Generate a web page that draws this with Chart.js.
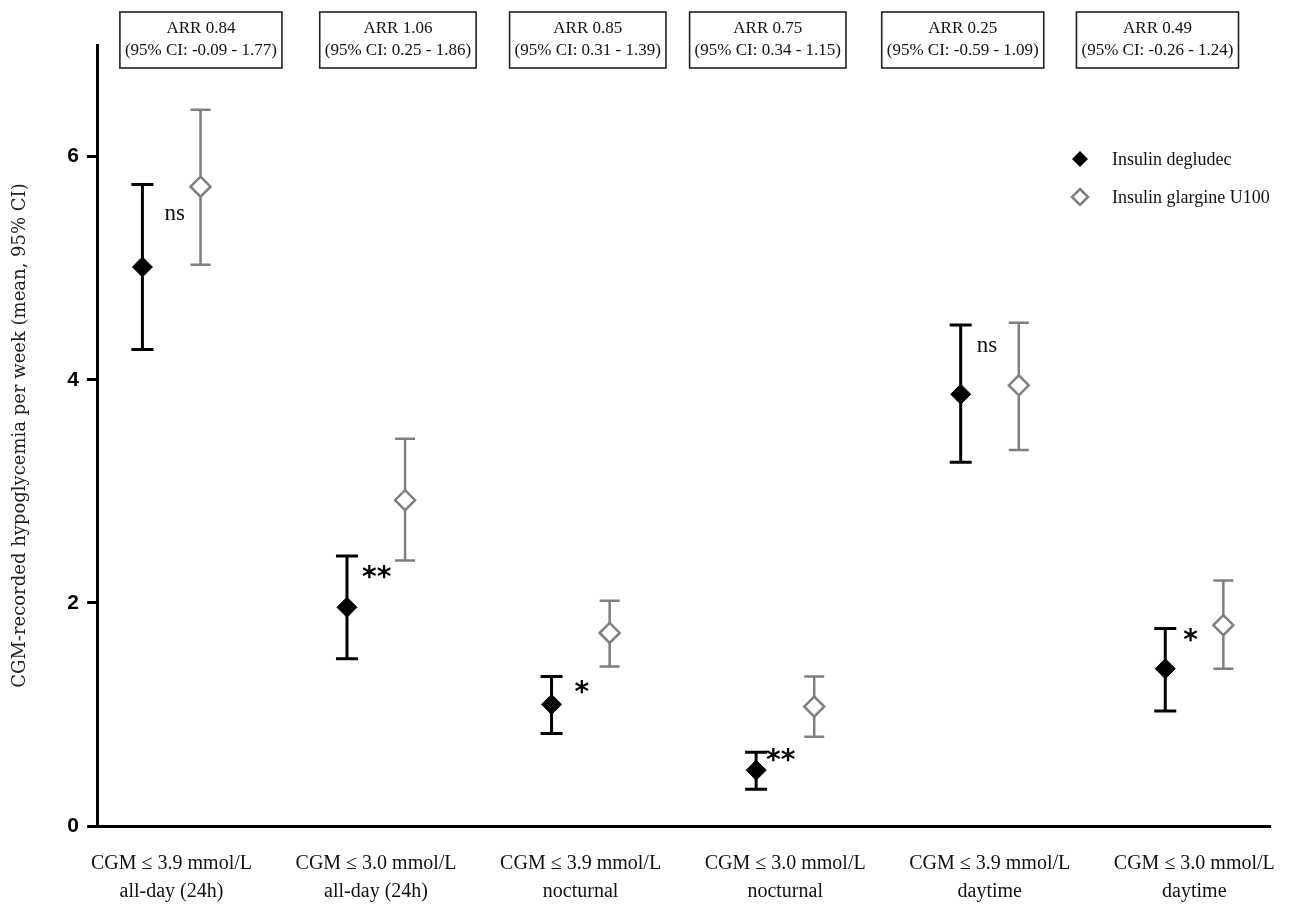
<!DOCTYPE html>
<html>
<head>
<meta charset="utf-8">
<title>CGM-recorded hypoglycemia</title>
<script src="https://cdn.jsdelivr.net/npm/chart.js@4/dist/chart.umd.min.js"></script>
<style>
  html, body { margin: 0; padding: 0; background: #fff; }
  #wrap { width: 1316px; height: 916px; position: relative; }
</style>
</head>
<body>
<div id="wrap"><canvas id="chart"></canvas></div>
<script>
// categories (x axis, two-line labels)
const categories = [
  ['CGM \u2264 3.9 mmol/L', 'all-day (24h)'],
  ['CGM \u2264 3.0 mmol/L', 'all-day (24h)'],
  ['CGM \u2264 3.9 mmol/L', 'nocturnal'],
  ['CGM \u2264 3.0 mmol/L', 'nocturnal'],
  ['CGM \u2264 3.9 mmol/L', 'daytime'],
  ['CGM \u2264 3.0 mmol/L', 'daytime']
];
const seriesNames = ['Insulin degludec', 'Insulin glargine U100'];

// insulin degludec: mean and 95% CI
const degMean = [5.01, 1.96, 1.09, 0.50, 3.87, 1.41];
const degLow  = [4.27, 1.50, 0.83, 0.33, 3.26, 1.03];
const degHigh = [5.75, 2.42, 1.34, 0.66, 4.49, 1.77];

// insulin glargine U100: mean and 95% CI
const glaMean = [5.73, 2.92, 1.73, 1.07, 3.95, 1.80];
const glaLow  = [5.03, 2.38, 1.43, 0.80, 3.37, 1.41];
const glaHigh = [6.42, 3.47, 2.02, 1.34, 4.51, 2.20];

// rate ratio boxes
const arrValue = ['0.84', '1.06', '0.85', '0.75', '0.25', '0.49'];
const arrCI = ['-0.09 - 1.77', '0.25 - 1.86', '0.31 - 1.39', '0.34 - 1.15', '-0.59 - 1.09', '-0.26 - 1.24'];

// significance markers
const sigLabels = ['ns', '**', '*', '**', 'ns', '*'];
const sigY = [5.49, 2.28, 1.25, 0.64, 4.30, 1.71];

const yTicks = [0, 2, 4, 6];

// layout constants
const PAIR_OFFSET = 0.142;
const boxCenters = [0.144, 1.107, 2.035, 2.915, 3.868, 4.82];
const sigDx = [22, 15, 23, 10, 16, 18];
const DEG_COLOR = '#000000';
const GLA_COLOR = '#7f7f7f';
const SERIF = '"Liberation Serif", "DejaVu Serif", serif';

const degPoints = degMean.map(function(v, i) { return { x: i - PAIR_OFFSET, y: v }; });
const glaPoints = glaMean.map(function(v, i) { return { x: i + PAIR_OFFSET, y: v }; });

const errorBars = {
  id: 'errorBars',
  beforeDatasetsDraw(chart) {
    const ctx = chart.ctx;
    const xs = chart.scales.x;
    const ys = chart.scales.y;
    const sets = [
      { lo: degLow, hi: degHigh, off: -PAIR_OFFSET, color: DEG_COLOR, w: 3, cap: 11 },
      { lo: glaLow, hi: glaHigh, off: PAIR_OFFSET, color: GLA_COLOR, w: 2.5, cap: 10 }
    ];
    ctx.save();
    sets.forEach(function(s) {
      ctx.strokeStyle = s.color;
      ctx.lineWidth = s.w;
      s.lo.forEach(function(lo, i) {
        const x = xs.getPixelForValue(i + s.off);
        const y1 = ys.getPixelForValue(lo);
        const y2 = ys.getPixelForValue(s.hi[i]);
        ctx.beginPath();
        ctx.moveTo(x, y1); ctx.lineTo(x, y2);
        ctx.moveTo(x - s.cap, y1); ctx.lineTo(x + s.cap, y1);
        ctx.moveTo(x - s.cap, y2); ctx.lineTo(x + s.cap, y2);
        ctx.stroke();
      });
    });
    ctx.restore();
  }
};

const annotations = {
  id: 'annotations',
  afterDatasetsDraw(chart) {
    const ctx = chart.ctx;
    const xs = chart.scales.x;
    const ys = chart.scales.y;
    ctx.save();

    // ARR boxes on top
    ctx.font = '17px ' + SERIF;
    ctx.textAlign = 'center';
    ctx.textBaseline = 'middle';
    arrValue.forEach(function(v, i) {
      const cx = xs.getPixelForValue(boxCenters[i]);
      const l1 = 'ARR ' + v;
      const l2 = '(95% CI: ' + arrCI[i] + ')';
      const w = ctx.measureText(l2).width + 10;
      ctx.strokeStyle = '#222';
      ctx.lineWidth = 1.6;
      ctx.strokeRect(cx - w / 2, 12, w, 56);
      ctx.fillStyle = '#111';
      ctx.fillText(l1, cx, 29);
      ctx.fillText(l2, cx, 51);
    });

    // significance markers
    ctx.textAlign = 'left';
    sigLabels.forEach(function(s, i) {
      const x = xs.getPixelForValue(i - PAIR_OFFSET) + sigDx[i];
      const y = ys.getPixelForValue(sigY[i]);
      if (s === 'ns') {
        ctx.font = '23px ' + SERIF;
        ctx.fillStyle = '#111';
        ctx.fillText(s, x, y);
      } else {
        ctx.font = 'bold 28px "DejaVu Sans", sans-serif';
        ctx.fillStyle = '#000';
        ctx.fillText(s, x, y + 7);
      }
    });

    // legend
    const lx = 1080;
    [159, 197].forEach(function(y, k) {
      ctx.beginPath();
      ctx.moveTo(lx, y - 8); ctx.lineTo(lx + 8, y); ctx.lineTo(lx, y + 8); ctx.lineTo(lx - 8, y);
      ctx.closePath();
      if (k === 0) {
        ctx.fillStyle = DEG_COLOR; ctx.fill();
      } else {
        ctx.fillStyle = '#fff'; ctx.fill();
        ctx.strokeStyle = GLA_COLOR; ctx.lineWidth = 2.5; ctx.stroke();
      }
      ctx.font = '18px ' + SERIF;
      ctx.fillStyle = '#111';
      ctx.textAlign = 'left';
      ctx.fillText(seriesNames[k], 1112, y + 1);
    });
    ctx.restore();
  }
};

new Chart(document.getElementById('chart'), {
  type: 'scatter',
  data: {
    datasets: [{
      label: seriesNames[0],
      data: degPoints,
      pointStyle: 'rectRot',
      pointRadius: 10,
      pointBackgroundColor: DEG_COLOR,
      pointBorderColor: DEG_COLOR,
      pointBorderWidth: 1
    },
    {
      label: seriesNames[1],
      data: glaPoints,
      pointStyle: 'rectRot',
      pointRadius: 10,
      pointBackgroundColor: '#ffffff',
      pointBorderColor: GLA_COLOR,
      pointBorderWidth: 2.5
    }]
  },
  options: {
    responsive: true,
    maintainAspectRatio: false,
    animation: false,
    layout: { padding: { top: 45, right: 46, left: 0, bottom: 0 } },
    plugins: {
      legend: { display: false },
      tooltip: { enabled: false }
    },
    scales: {
      x: {
        type: 'linear',
        min: -0.364,
        max: 5.37,
        afterBuildTicks: function(scale) {
          scale.ticks = categories.map(function(c, i) { return { value: i }; });
        },
        afterFit: function(scale) { scale.height = 90; },
        grid: { display: false, drawTicks: false },
        border: { display: true, color: '#000', width: 3 },
        ticks: {
          autoSkip: false,
          maxRotation: 0,
          padding: 24,
          color: '#111',
          font: { family: SERIF, size: 20, lineHeight: 1.4 },
          callback: function(v) { return categories[v]; }
        }
      },
      y: {
        min: 0,
        max: 7,
        afterBuildTicks: function(scale) {
          scale.ticks = yTicks.map(function(v) { return { value: v }; });
        },
        afterFit: function(scale) { scale.width = 97; },
        grid: { display: true, drawOnChartArea: false, drawTicks: true, tickLength: 10, color: '#000', lineWidth: 3 },
        border: { display: true, color: '#000', width: 3 },
        ticks: {
          padding: 8,
          color: '#000',
          font: { family: '"Liberation Sans", Arial, sans-serif', size: 21, weight: 'bold' }
        },
        title: {
          display: true,
          text: 'CGM-recorded hypoglycemia per week (mean, 95% CI)',
          color: '#222',
          font: { family: '"DejaVu Serif", serif', size: 18 },
          padding: { top: 10, bottom: 4 }
        }
      }
    }
  },
  plugins: [errorBars, annotations]
});
</script>
</body>
</html>
